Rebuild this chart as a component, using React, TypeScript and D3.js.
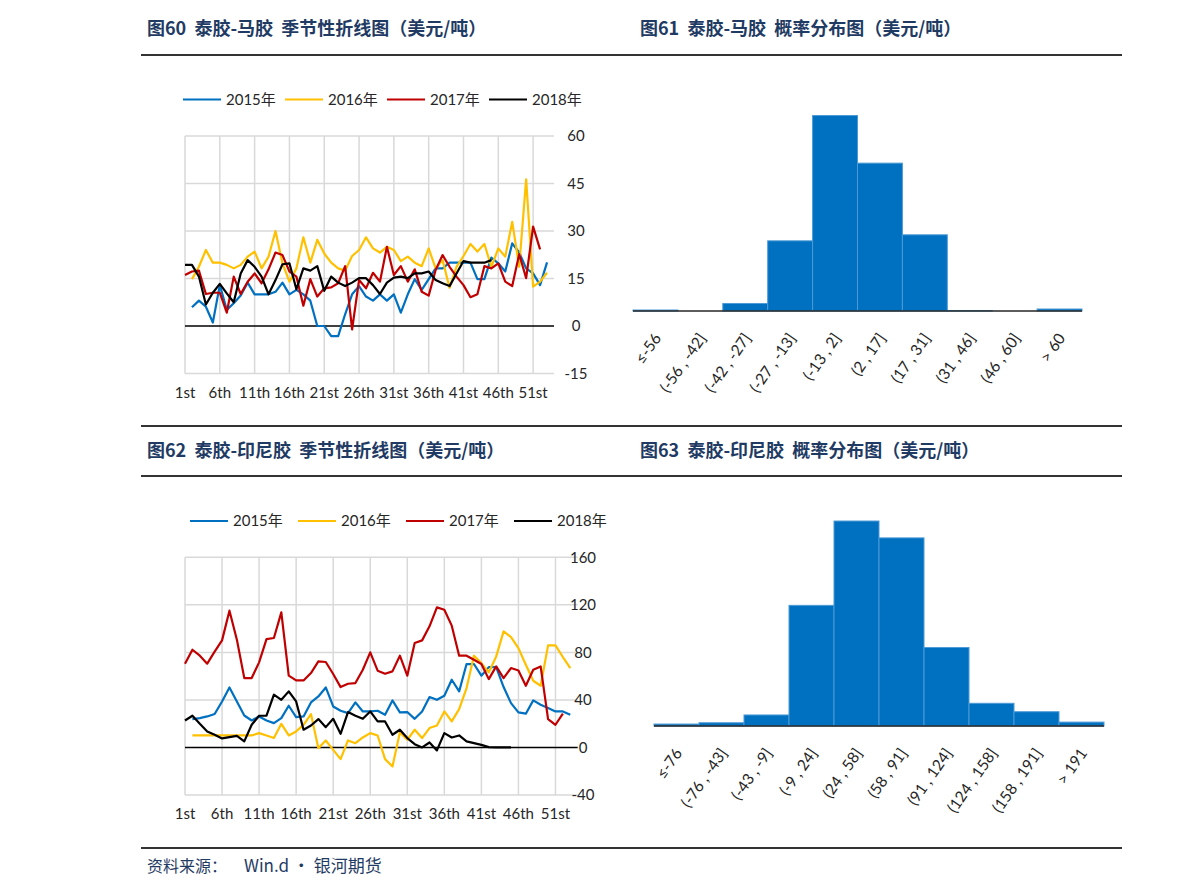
import React from "react";
import * as d3 from "d3";

// ---------- Data ----------
const weekCount = 54;
const tickEvery = 5;

// 图60 泰胶-马胶 seasonal spread (USD/t), index = week-1
const my2015: (number | null)[] = [null, 5.9, 8.0, 6.1, 1.1, 12.9, 5.1, 7.2, 9.6, 13.7, 10.0, 10.0, 10.0, 10.8, 13.7, 10.0, 11.4, 10.0, 8.0, 0, 0, -3.2, -3.2, 3.7, 10.0, 12.6, 9.3, 8.0, 10.0, 8.0, 10.0, 4.2, 10.0, 14.8, 11.4, 14.8, 18.2, 18.2, 20.0, 20.0, 20.0, 20.0, 14.8, 14.8, 21.6, 19.8, 17.2, 26.1, 23.2, 18.2, 16.6, 12.9, 20.1];
const my2016: (number | null)[] = [null, 14.8, 18.7, 24.0, 20.0, 20.0, 19.3, 18.2, 19.3, 21.9, 23.5, 18.2, 21.9, 30.0, 19.8, 14.0, 18.2, 28.0, 20.0, 27.2, 22.9, 20.0, 18.2, 17.5, 22.1, 24.0, 28.0, 24.5, 23.2, 25.0, 24.0, 20.5, 21.9, 20.0, 18.9, 24.5, 18.2, 20.8, 12.1, 18.7, 22.1, 25.9, 23.5, 25.9, 18.7, 24.5, 21.9, 32.9, 18.7, 46.3, 12.4, 14.0, 16.8];
const my2017: (number | null)[] = [16.1, 17.2, 17.5, 10.1, 10.5, 10.5, 4.2, 15.6, 10.1, 14.0, 16.6, 13.5, 17.9, 23.2, 22.4, 17.2, 15.6, 6.4, 14.8, 9.3, 11.9, 12.2, 13.5, 18.9, -1.1, 14.5, 11.9, 16.8, 14.0, 25.0, 16.1, 18.9, 14.0, 17.9, 10.8, 9.6, 17.7, 22.4, 18.7, 15.6, 12.9, 9.1, 10.0, 18.9, 18.2, 19.8, 14.0, 12.6, 22.7, 15.1, 31.4, 24.2];
const my2018: (number | null)[] = [19.3, 19.3, 15.6, 6.8, 10.5, 13.3, 10.3, 7.5, 16.6, 20.8, 18.7, 15.6, 10.0, 14.5, 19.5, 19.8, 11.6, 18.2, 17.5, 18.9, 11.1, 15.6, 13.7, 12.6, 13.7, 15.1, 15.1, 12.9, 10.1, 13.7, 15.3, 15.6, 15.1, 16.6, 16.6, 17.2, 14.5, 13.5, 12.6, 16.6, 20.5, 20.0, 20.0, 20.0, 20.8];
const myTicks = [-15, 0, 15, 30, 45, 60];

// 图62 泰胶-印尼胶 seasonal spread (USD/t)
const id2015: (number | null)[] = [null, 23.9, 24.7, 26.1, 28.1, 38.7, 50.5, 38.7, 26.9, 22.7, 26.1, 22.7, 20.5, 24.7, 35.1, 25.5, 26.1, 37.9, 42.9, 50.5, 34.5, 30.9, 28.9, 37.9, 30.3, 30.3, 30.9, 27.5, 39.6, 29.5, 29.8, 24.1, 30.3, 42.4, 40.1, 43.5, 57.0, 47.2, 70.2, 70.2, 60.4, 67.6, 67.6, 50.8, 37.3, 29.5, 28.4, 39.6, 35.9, 33.1, 30.3, 30.3, 27.5];
const id2016: (number | null)[] = [null, 10.1, 10.1, 10.1, 10.1, 10.1, 10.1, 10.1, 10.1, 10.1, 12.1, 10.1, 7.9, 19.9, 10.1, 13.5, 19.1, 28.1, -0.6, 5.9, -2.0, -9.8, 5.9, 3.6, 8.4, 12.1, 10.1, -9.8, -16.0, 12.6, 6.5, 14.9, 7.9, 16.3, 18.5, 30.3, 21.9, 32.3, 50.0, 77.2, 71.0, 63.2, 76.6, 97.7, 92.9, 83.6, 69.6, 56.1, 51.9, 85.9, 85.9, 76.1, 66.8];
const id2017: (number | null)[] = [70.5, 82.2, 77.2, 70.5, 80.6, 90.1, 115.1, 90.7, 58.4, 58.4, 71.6, 91.2, 92.1, 113.7, 60.4, 56.4, 56.4, 62.6, 72.4, 71.9, 61.8, 50.8, 53.6, 54.2, 65.4, 80.0, 64.6, 62.0, 64.0, 77.2, 60.4, 87.9, 90.1, 101.9, 117.9, 115.9, 102.5, 77.2, 77.2, 73.8, 70.2, 57.5, 68.2, 58.4, 66.8, 64.8, 51.9, 65.4, 68.2, 23.9, 19.1, 28.4];
const id2018: (number | null)[] = [22.7, 26.7, 19.9, 13.5, 10.7, 7.6, 8.7, 9.8, 5.1, 19.1, 26.7, 26.7, 44.4, 40.1, 47.2, 38.7, 14.9, 18.5, 23.9, 17.1, 24.1, 11.5, 29.8, 26.7, 24.1, 30.3, 21.9, 21.9, 10.7, 14.9, 7.9, 2.8, 0, 4.2, -2.5, 12.1, 8.4, 10.1, 5.1, 3.6, 2.2, 0.3, 0, 0, 0];
const idTicks = [-40, 0, 40, 80, 120, 160];

const seriesNames = ["2015年", "2016年", "2017年", "2018年"];
const seriesColors = ["#0070C0", "#FFC000", "#C00000", "#000000"];

// 图61 泰胶-马胶 distribution (frequency, %)
const myBins = ["≤-56", "(-56 , -42]", "(-42 , -27]", "(-27 , -13]", "(-13 , 2]", "(2 , 17]", "(17 , 31]", "(31 , 46]", "(46 , 60]", "> 60"];
const myFreq = [0.2, 0, 1.5, 14.0, 39.0, 29.5, 15.2, 0.1, 0, 0.4];

// 图63 泰胶-印尼胶 distribution (frequency, %)
const idBins = ["≤-76", "(-76 , -43]", "(-43 , -9]", "(-9 , 24]", "(24 , 58]", "(58 , 91]", "(91 , 124]", "(124 , 158]", "(158 , 191]", "> 191"];
const idFreq = [0.3, 0.5, 1.7, 18.6, 31.6, 29.0, 12.1, 3.5, 2.2, 0.6];

const titles = [
  "图60  泰胶-马胶  季节性折线图（美元/吨）",
  "图61  泰胶-马胶  概率分布图（美元/吨）",
  "图62  泰胶-印尼胶  季节性折线图（美元/吨）",
  "图63  泰胶-印尼胶  概率分布图（美元/吨）",
];
const sourceLabel = "资料来源：";
const sourceText = "Win.d · 银河期货";

// ---------- Styles ----------
const titleColor = "#1F3B64";
const latin = "Lato, 'Noto Sans CJK SC', sans-serif";
const cjk = "'Noto Sans CJK SC', sans-serif";

function ordinal(n: number) {
  const s = n % 100 >= 11 && n % 100 <= 13 ? "th" : n % 10 === 1 ? "st" : n % 10 === 2 ? "nd" : n % 10 === 3 ? "rd" : "th";
  return `${n}${s}`;
}

type LineProps = {
  series: (number | null)[][];
  ticks: number[];
  left: number;
  right: number;
  top: number;
  bottom: number;
  legendY: number;
  legendX: number;
  legendStep: number;
  yLabelX: number;
};

function SeasonalChart(p: LineProps) {
  const x = d3.scaleLinear().domain([0, weekCount - 1]).range([p.left, p.right]);
  const y = d3.scaleLinear().domain([p.ticks[0], p.ticks[p.ticks.length - 1]]).range([p.bottom, p.top]);
  const line = d3
    .line<number | null>()
    .defined((d) => d !== null)
    .x((_, i) => x(i))
    .y((d) => y(d as number));
  const cats = d3.range(0, weekCount - 1, tickEvery);
  return (
    <g>
      {cats.map((c) => (
        <line key={"v" + c} x1={x(c)} x2={x(c)} y1={y.range()[1]} y2={y.range()[0]} stroke="#D9D9D9" strokeWidth={1.5} />
      ))}
      {p.ticks.map((t) => (
        <line key={"h" + t} x1={p.left} x2={p.right} y1={y(t)} y2={y(t)} stroke={t === 0 ? "#000" : "#D9D9D9"} strokeWidth={1.5} />
      ))}
      {p.series.map((s, k) => (
        <path key={k} d={line(s) || ""} fill="none" stroke={seriesColors[k]} strokeWidth={2.2} strokeLinejoin="round" />
      ))}
      {p.ticks.map((t) => (
        <text key={"yl" + t} x={p.yLabelX} y={y(t)} dy="0.35em" textAnchor="middle" fontFamily={latin} fontSize={15} fill="#262626">
          {t}
        </text>
      ))}
      {cats.map((c) => (
        <text key={"xl" + c} x={x(c)} y={p.bottom + 19} dy="0.35em" textAnchor="middle" fontFamily={latin} fontSize={15} fill="#262626">
          {ordinal(c + 1)}
        </text>
      ))}
      {seriesNames.map((n, k) => {
        const lx = p.legendX + k * p.legendStep;
        return (
          <g key={n}>
            <line x1={lx} x2={lx + 38} y1={p.legendY} y2={p.legendY} stroke={seriesColors[k]} strokeWidth={2.2} />
            <text x={lx + 43} y={p.legendY} dy="0.35em" fontFamily={latin} fontSize={15} fill="#262626">
              {n}
            </text>
          </g>
        );
      })}
    </g>
  );
}

type HistProps = { bins: string[]; freq: number[]; left: number; right: number; top: number; base: number; yMax: number };

function Histogram(p: HistProps) {
  const x = d3.scaleBand().domain(p.bins).range([p.left, p.right]).padding(0);
  const y = d3.scaleLinear().domain([0, p.yMax]).range([p.base, p.top]);
  return (
    <g>
      {p.bins.map((b, i) => (
        <rect key={b} x={x(b)} y={y(p.freq[i])} width={x.bandwidth()} height={p.base - y(p.freq[i])} fill="#0070C0" stroke="#4D9AD6" strokeWidth={p.freq[i] > 0 ? 1 : 0} />
      ))}
      <line x1={p.left} x2={p.right} y1={p.base} y2={p.base} stroke="#262626" strokeWidth={1.5} />
      {p.bins.map((b) => {
        const cx = (x(b) as number) + x.bandwidth() / 2 + 2;
        const cy = p.base + 24;
        return (
          <text key={"l" + b} x={cx} y={cy} transform={`rotate(-55 ${cx} ${cy})`} textAnchor="end" dy="0.35em" fontFamily={latin} fontSize={15.5} fill="#262626" style={{ whiteSpace: "pre" }}>
            {b}
          </text>
        );
      })}
    </g>
  );
}

export default function App() {
  const rules = [55, 426, 476, 848];
  const tStyle = { fontFamily: cjk, fontWeight: 600, fontSize: 18, fill: titleColor, style: { whiteSpace: "pre" as const } };
  return (
    <svg width={1191} height={895} style={{ position: "absolute", left: 0, top: 0, background: "#fff" }}>
      {rules.map((r) => (
        <line key={r} x1={141} x2={1122} y1={r} y2={r} stroke="#333" strokeWidth={2} />
      ))}
      <text x={147} y={29} dy="0.35em" {...tStyle}>{titles[0]}</text>
      <text x={640} y={29} dy="0.35em" {...tStyle}>{titles[1]}</text>
      <text x={147} y={451} dy="0.35em" {...tStyle}>{titles[2]}</text>
      <text x={640} y={451} dy="0.35em" {...tStyle}>{titles[3]}</text>
      <text x={147} y={866} dy="0.35em" fontFamily={cjk} fontSize={16} fill={titleColor}>{sourceLabel}</text>
      <text x={244} y={866} dy="0.35em" fontFamily={cjk} fontSize={17} fill={titleColor}>{sourceText}</text>

      <SeasonalChart series={[my2015, my2016, my2017, my2018]} ticks={myTicks} left={185} right={554} top={136} bottom={373.5} legendY={99.5} legendX={183} legendStep={102} yLabelX={576} />
      <SeasonalChart series={[id2015, id2016, id2017, id2018]} ticks={idTicks} left={185} right={577.7} top={557.3} bottom={795} legendY={521} legendX={190} legendStep={108} yLabelX={583} />

      <Histogram bins={myBins} freq={myFreq} left={633} right={1082} top={105} base={311} yMax={41.1} />
      <Histogram bins={idBins} freq={idFreq} left={654} right={1104} top={510} base={726} yMax={33.3} />
    </svg>
  );
}
